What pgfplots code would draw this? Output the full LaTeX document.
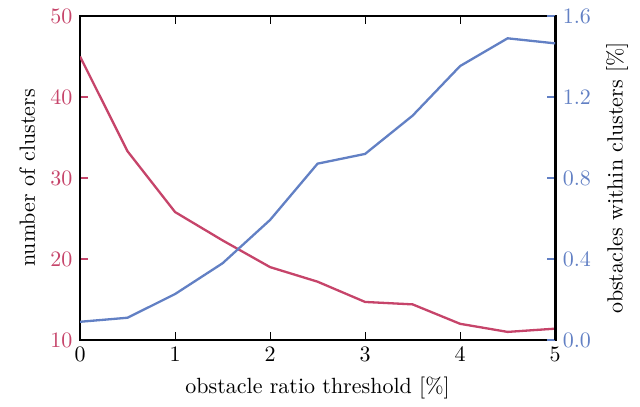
\documentclass[border=0pt]{standalone}
\usepackage{pgfplots}
\pgfplotsset{compat=1.18}
\usetikzlibrary{calc}

\definecolor{cred}{RGB}{198,68,106}
\definecolor{cblue}{RGB}{98,128,196}

\begin{document}
\begin{tikzpicture}
  % left axis: number of clusters, and the box
  \begin{axis}[
      name=main,
      scale only axis,
      width=216pt, height=147.3pt,
      xmin=0, xmax=5,
      ymin=10, ymax=50,
      xtick={0,1,2,3,4,5},
      ytick={10,20,30,40,50},
      ytick pos=left,
      xtick pos=both,
      tick align=inside,
      major tick length=3.5pt,
      axis line style={line width=1.3pt},
      x tick style={black, line width=0.5pt},
      y tick style={cred, line width=0.5pt},
      yticklabel style={cred},
      xlabel={obstacle ratio threshold [\%]},
      ylabel={number of clusters},
    ]
    \addplot[cred, line width=1.05pt] coordinates {
        (0,45.0) (0.5,33.3) (1,25.8) (1.5,22.3) (2,19.0) (2.5,17.2)
        (3,14.7) (3.5,14.4) (4,12.0) (4.5,11.0) (5,11.4)
      };
  \end{axis}

  % right axis: obstacles within clusters
  \begin{axis}[
      scale only axis,
      width=216pt, height=147.3pt,
      xmin=0, xmax=5,
      ymin=0, ymax=1.6,
      axis x line=none,
      axis y line*=right,
      ytick={0,0.4,0.8,1.2,1.6},
      tick align=inside,
      major tick length=3.5pt,
      axis line style={line width=1.3pt, black},
      y tick style={cblue, line width=0.5pt},
      yticklabel style={cblue, /pgf/number format/fixed, /pgf/number format/precision=1, /pgf/number format/fixed zerofill},
      ylabel={obstacles within clusters [\%]},
    ]
    \addplot[cblue, line width=1.05pt] coordinates {
        (0,0.09) (0.5,0.11) (1,0.227) (1.5,0.379) (2,0.593) (2.5,0.871)
        (3,0.919) (3.5,1.108) (4,1.353) (4.5,1.49) (5,1.465)
      };
  \end{axis}

  \path ($(main.south west)+(-36.4pt,-30pt)$) rectangle ($(main.north east)+(38.6pt,7.3pt)$);
\end{tikzpicture}
\end{document}
